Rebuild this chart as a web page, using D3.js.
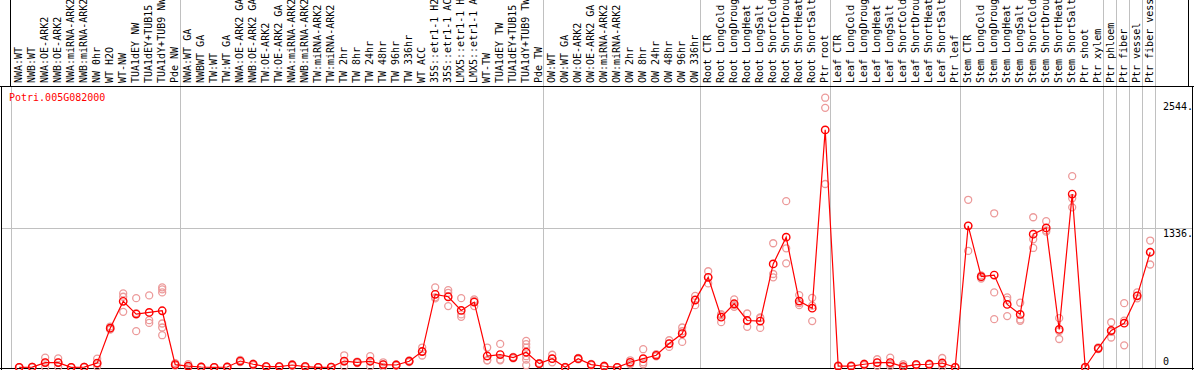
<!DOCTYPE html>
<html>
<head>
<meta charset="utf-8">
<script src="https://cdn.jsdelivr.net/npm/d3@7"></script>
<style>
body { margin: 0; background: #fff; }
text { font-family: "DejaVu Sans Mono", monospace; font-size: 10px; }
</style>
</head>
<body>
<div id="chart"></div>
<script>
// sample names, one per column
var samples = [
  "NWA:WT","NWB:WT","NWA:OE-ARK2","NWB:OE-ARK2","NWA:miRNA-ARK2","NWB:miRNA-ARK2","NW 0hr","WT H2O","WT-NW","TUA1dEY NW","TUA1dEY+TUB15 NW","TUA1dY+TUB9 NW","Pde NW",
  "NWA:WT GA","NWBWT GA","TW:WT","TW:WT GA","NWA:OE-ARK2 GA","NWB:OE-ARK2 GA","TW:OE-ARK2","TW:OE-ARK2 GA","NWA:miRNA-ARK2 GA","NWB:miRNA-ARK2 GA","TW:miRNA-ARK2","TW:miRNA-ARK2",
  "TW 2hr","TW 8hr","TW 24hr","TW 48hr","TW 96hr","TW 336hr","WT ACC","35S::etr1-1 H2O","35S::etr1-1 ACC","LMX5::etr1-1 H2O","LMX5::etr1-1 ACC","WT-TW","TUA1dEY TW","TUA1dEY+TUB15 TW","TUA1dY+TUB9 TW","Pde TW",
  "OW:WT","OW:WT GA","OW:OE-ARK2","OW:OE-ARK2 GA","OW:miRNA-ARK2","OW:miRNA-ARK2","OW 2hr","OW 8hr","OW 24hr","OW 48hr","OW 96hr","OW 336hr",
  "Root CTR","Root LongCold","Root LongDrought","Root LongHeat","Root LongSalt","Root ShortCold","Root ShortDrought","Root ShortHeat","Root ShortSalt","Ptr root",
  "Leaf CTR","Leaf LongCold","Leaf LongDrought","Leaf LongHeat","Leaf LongSalt","Leaf ShortCold","Leaf ShortDrought","Leaf ShortHeat","Leaf ShortSalt","Ptr leaf",
  "Stem CTR","Stem LongCold","Stem LongDrought","Stem LongHeat","Stem LongSalt","Stem ShortCold","Stem ShortDrought","Stem ShortHeat","Stem ShortSalt","Ptr shoot","Ptr xylem",
  "Ptr phloem","Ptr fiber","Ptr vessel","Ptr fiber vessel"
];

// column index where each group starts (last = end)
var groupBreaks = [0, 13, 41, 53, 63, 73, 84, 85, 86, 87, 88];

// mean expression per sample
var means = [
  0, 2, 45, 45, 0, 2, 40, 374, 631, 509, 525, 541, 26,
  12, 3, 0, 3, 60, 29, 7, 7, 22, 7, 0, 2, 60, 48, 58, 26, 22, 58, 151, 698, 675, 544, 624, 108, 122, 93, 144, 35,
  83, 0, 83, 26, 10, 0, 48, 83, 115, 227, 323, 643,
  861, 480, 608, 448, 442, 989, 1245, 634, 566, 2272,
  12, 12, 29, 45, 45, 7, 26, 29, 41, 0,
  1354, 867, 883, 602, 506, 1274, 1334, 362, 1658, 0, 182,
  352, 422, 684, 1101
];

// replicate values per sample
var replicates = [
  [0, 0, 2], [0, 3, 5], [93, 45, 0], [86, 45, 5], [0, 2, 0], [0, 4, 3], [83, 35, 10], [390, 370, 360], [707, 675, 531], [662, 519, 346], [688, 451, 425], [765, 746, 717, 419, 381, 307], [40, 20, 18],
  [30, 5, 0], [5, 3, 0], [0, 0, 2], [5, 3, 0], [70, 60, 50], [35, 29, 22], [10, 7, 4], [10, 7, 4], [30, 22, 15], [12, 7, 3], [2, 0, 0], [4, 2, 0],
  [115, 55, 10], [55, 48, 40], [106, 58, 10], [48, 26, 5], [28, 22, 16], [65, 58, 50], [189, 151, 113], [765, 670, 659], [739, 713, 586], [662, 506, 483], [650, 636, 586], [189, 67, 67], [224, 74, 67], [100, 93, 86], [253, 221, 189, 106, 74, 20], [40, 35, 30],
  [120, 83, 48], [3, 0, 0], [90, 83, 76], [32, 26, 20], [15, 10, 5], [2, 0, 0], [67, 48, 29], [173, 48, 29], [125, 115, 105], [259, 227, 195], [381, 345, 243], [684, 650, 595],
  [919, 861, 803], [509, 499, 432], [650, 595, 579], [515, 442, 387], [477, 472, 377], [1187, 893, 861], [1590, 1139, 995], [691, 615, 595], [665, 590, 442], [2580, 2483, 1754],
  [18, 12, 6], [18, 12, 6], [35, 29, 22], [77, 45, 15], [93, 30, 12], [29, 0, 0], [30, 26, 22], [35, 29, 23], [89, 30, 5], [3, 0, 0],
  [1603, 1354, 1114], [880, 860, 850], [1474, 717, 461], [669, 645, 490], [618, 458, 445], [1436, 1225, 1142], [1398, 1310, 1298], [470, 346, 271], [1829, 1618, 1531], [5, 0, 0], [190, 182, 175],
  [431, 340, 285], [614, 446, 210], [717, 684, 660], [1213, 1105, 984]
];

var axisTicks = [0, 1336, 2544];
var geneName = "Potri.005G082000";

var width = 1194, height = 370;
var svg = d3.select("#chart").append("svg")
  .attr("width", width)
  .attr("height", height);

var x = d3.scaleLinear().domain([0, samples.length]).range([10.5, 1154.5]);
var y = d3.scaleLinear().domain([0, 1336]).range([367.3, 227.7]);
var px = function(i) { return x(i) + 8.7; };

// header box for the labels
svg.append("line").attr("x1", 10).attr("x2", 10).attr("y1", 0).attr("y2", 86)
  .attr("stroke", "#000").attr("shape-rendering", "crispEdges");
svg.append("line").attr("x1", 1188.5).attr("x2", 1188.5).attr("y1", 0).attr("y2", 86)
  .attr("stroke", "#000").attr("shape-rendering", "crispEdges");

// group separators
svg.selectAll(".vgrid").data(groupBreaks).enter().append("line")
  .attr("class", "vgrid")
  .attr("x1", function(d) { return Math.round(x(d)) + 0.5; })
  .attr("x2", function(d) { return Math.round(x(d)) + 0.5; })
  .attr("y1", function(d, i) { return i == 0 ? 86 : 0; })
  .attr("y2", 368)
  .attr("stroke", "#c0c0c0")
  .attr("shape-rendering", "crispEdges");

// horizontal grid at middle tick
svg.append("line").attr("x1", 1).attr("x2", 1193).attr("y1", Math.round(y(1336)) + 0.5).attr("y2", Math.round(y(1336)) + 0.5)
  .attr("stroke", "#c0c0c0").attr("shape-rendering", "crispEdges");

// plot frame
svg.append("line").attr("x1", 0).attr("x2", 1194).attr("y1", 86.5).attr("y2", 86.5)
  .attr("stroke", "#000").attr("shape-rendering", "crispEdges");
svg.append("line").attr("x1", 1.5).attr("x2", 1.5).attr("y1", 86).attr("y2", 370)
  .attr("stroke", "#000").attr("shape-rendering", "crispEdges");
svg.append("line").attr("x1", 1192.5).attr("x2", 1192.5).attr("y1", 86).attr("y2", 370)
  .attr("stroke", "#000").attr("shape-rendering", "crispEdges");
svg.append("line").attr("x1", 0).attr("x2", 1194).attr("y1", 368.5).attr("y2", 368.5)
  .attr("stroke", "#000").attr("shape-rendering", "crispEdges");

// sample labels, rotated
svg.selectAll(".lbl").data(samples).enter().append("text")
  .attr("class", "lbl")
  .attr("transform", function(d, i) { return "translate(" + (px(i) + 3) + ",83) rotate(-90)"; })
  .attr("fill", "#000")
  .text(function(d) { return d; });

// gene name
svg.append("text").attr("x", 9).attr("y", 100.5).attr("fill", "#f00").text(geneName);

// right-side value labels
svg.selectAll(".ytick").data(axisTicks).enter().append("text")
  .attr("class", "ytick")
  .attr("x", 1163)
  .attr("y", function(d) { return d == 0 ? y(d) - 2 : y(d) + 9; })
  .attr("fill", "#000")
  .text(function(d) { return d == 0 ? "0" : d + "."; });

// replicates
var repPts = [];
replicates.forEach(function(r, i) {
  r.forEach(function(v) { repPts.push({ i: i, v: v }); });
});
svg.selectAll(".rep").data(repPts).enter().append("circle")
  .attr("class", "rep")
  .attr("cx", function(d) { return px(d.i); })
  .attr("cy", function(d) { return y(d.v); })
  .attr("r", 3.5)
  .attr("fill", "none")
  .attr("stroke", "#ec9a9a")
  .attr("stroke-width", 1.3);

// mean line
var line = d3.line()
  .x(function(d, i) { return px(i); })
  .y(function(d) { return y(d); });
svg.append("path").datum(means)
  .attr("d", line)
  .attr("fill", "none")
  .attr("stroke", "#f00")
  .attr("stroke-width", 1.2);

svg.selectAll(".mean").data(means).enter().append("circle")
  .attr("class", "mean")
  .attr("cx", function(d, i) { return px(i); })
  .attr("cy", function(d) { return y(d); })
  .attr("r", 3.7)
  .attr("fill", "none")
  .attr("stroke", "#f00")
  .attr("stroke-width", 1.4);
</script>
</body>
</html>
